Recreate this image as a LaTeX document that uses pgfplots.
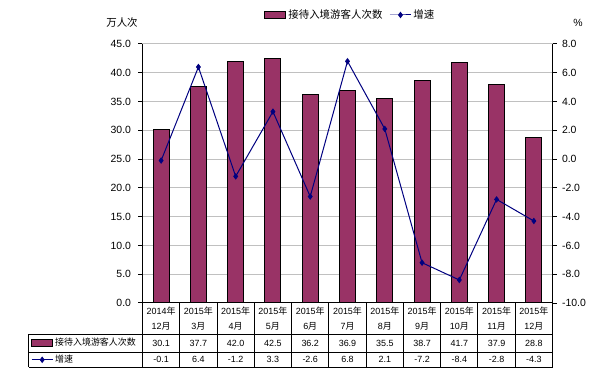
\documentclass[border=0pt]{standalone}
\usepackage{pgfplots}
\pgfplotsset{compat=1.18}
\usepackage{pgfplotstable}
\usepackage{fontspec}
\setmainfont{Liberation Sans}
\newfontfamily\cjk{Noto Sans CJK SC}
\definecolor{barc}{HTML}{993366}
\definecolor{linec}{HTML}{000080}
\definecolor{gridc}{HTML}{C0C0C0}
\pgfplotstableread{
x visitors growth
0 30.1 -0.1
1 37.7 6.4
2 42.0 -1.2
3 42.5 3.3
4 36.2 -2.6
5 36.9 6.8
6 35.5 2.1
7 38.7 -7.2
8 41.7 -8.4
9 37.9 -2.8
10 28.8 -4.3
}\datatable
\newcommand{\nian}{{\cjk 年}}
\newcommand{\yue}{{\cjk 月}}
\pgfplotsset{
  barleg/.style={legend image code/.code={\draw[##1] (0bp,-3.5bp) rectangle (21bp,3.5bp);}},
  lineleg/.style={legend image code/.code={\draw[mark repeat=2, mark phase=2, ##1] plot coordinates {(0bp,0bp) (10.5bp,0bp) (21bp,0bp)};}},
}
\begin{document}
\begin{tikzpicture}
\useasboundingbox (-142.5bp,-76bp) rectangle (454.5bp,303bp);
\begin{axis}[
  at={(0bp,0bp)}, anchor=south west,
  scale only axis, width=410bp, height=259bp,
  xmin=-0.5, xmax=10.5, ymin=0, ymax=45,
  ytick={0,5,...,45},
  axis x line*=bottom, axis y line*=left,
  axis line style={-, black, line width=1bp},
  ymajorgrids, grid style={gridc, line width=1bp},
  tick align=outside, major tick length=4bp,
  y tick style={black, line width=1bp},
  x tick style={draw=none},
  xtick={0,...,10},
  xticklabels={{2014\nian\\12\yue},{2015\nian\\3\yue},{2015\nian\\4\yue},{2015\nian\\5\yue},{2015\nian\\6\yue},{2015\nian\\7\yue},{2015\nian\\8\yue},{2015\nian\\9\yue},{2015\nian\\10\yue},{2015\nian\\11\yue},{2015\nian\\12\yue}},
  xticklabel style={font=\fontsize{9}{15}\selectfont, align=center, anchor=center, yshift=-12bp},
  yticklabel style={font=\fontsize{10.5}{12}\selectfont, xshift=-4bp, /pgf/number format/.cd, fixed, fixed zerofill, precision=1, assume math mode=true},
  clip=false,
  legend style={at={(0.507,1.112)}, anchor=center, draw=none, fill=none, legend columns=2,
    font=\cjk\fontsize{10.5}{12}\selectfont, inner sep=0pt,
    /tikz/every even column/.append style={column sep=5bp}},
]
\addplot[ybar, bar width=0.43, fill=barc, draw=black, line width=1bp, barleg] table[x=x, y=visitors]{\datatable};
\addlegendentry{接待入境游客人次数}
\addlegendimage{linec, line width=1bp, mark=diamond*, mark size=2.5pt, lineleg}
\addlegendentry{增速}
\addplot[forget plot, draw=none, mark=none, point meta=\thisrow{visitors},
  nodes near coords={\pgfmathprintnumber{\pgfplotspointmeta}},
  every node near coord/.append style={anchor=center, font=\fontsize{9}{10}\selectfont, /pgf/number format/.cd, fixed, fixed zerofill, precision=1, assume math mode=true}]
  table[x=x, y expr=-40*45/259]{\datatable};
\addplot[forget plot, draw=none, mark=none, point meta=\thisrow{growth},
  nodes near coords={\pgfmathprintnumber{\pgfplotspointmeta}},
  every node near coord/.append style={anchor=center, font=\fontsize{9}{10}\selectfont, /pgf/number format/.cd, fixed, fixed zerofill, precision=1, assume math mode=true}]
  table[x=x, y expr=-56.5*45/259]{\datatable};
\end{axis}
\begin{axis}[
  at={(0bp,0bp)}, anchor=south west,
  scale only axis, width=410bp, height=259bp,
  xmin=-0.5, xmax=10.5, ymin=-10, ymax=8,
  ytick={-10,-8,...,8},
  axis y line*=right, hide x axis,
  axis line style={-, black, line width=1bp},
  tick align=outside, major tick length=4bp,
  y tick style={black, line width=1bp},
  yticklabel style={font=\fontsize{10.5}{12}\selectfont, xshift=2bp, /pgf/number format/.cd, fixed, fixed zerofill, precision=1, assume math mode=true},
  clip=false,
  legend style={at={(-0.272,-0.1863)}, anchor=west, draw=none, fill=none, legend columns=1,
    font=\cjk\fontsize{9}{10}\selectfont, inner sep=0pt, row sep=4bp},
  legend cell align=left,
]
\addlegendimage{fill=barc, draw=black, line width=1bp, barleg}
\addlegendentry{接待入境游客人次数}
\addplot[linec, line width=1bp, mark=diamond*, mark size=2.5pt, lineleg] table[x=x, y=growth]{\datatable};
\addlegendentry{增速}
\end{axis}
\foreach \k in {0,...,11} {
  \draw[black, line width=1bp] ({\k*410/11*1bp},0bp) -- ({\k*410/11*1bp},-64bp);
}
\draw[black, line width=1bp] (-113.5bp,-31bp) -- (-113.5bp,-64bp);
\foreach \yy in {-31,-49,-64} {
  \draw[black, line width=1bp] (-113.5bp,\yy bp) -- (410bp,\yy bp);
}
\node[font=\cjk\fontsize{10.5}{12}\selectfont] at (-20.5bp,280bp) {万人次};
\node[font=\fontsize{10.5}{12}\selectfont] at (435.5bp,280bp) {\%};
\end{tikzpicture}
\end{document}
